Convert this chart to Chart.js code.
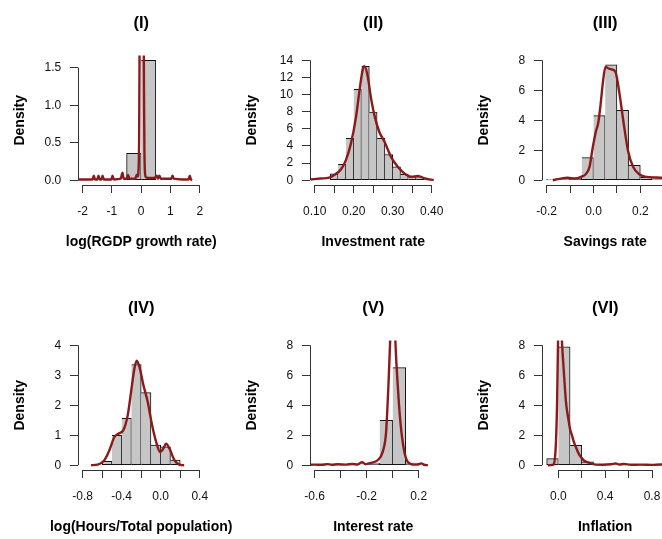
<!DOCTYPE html>
<html><head><meta charset="utf-8">
<script src="https://cdn.jsdelivr.net/npm/chart.js@4.4.1/dist/chart.umd.min.js"></script>
<style>
html,body{margin:0;padding:0;background:#fff;overflow:hidden;width:662px;height:539px;position:relative}
canvas{position:absolute;display:block}
</style></head><body>
<canvas id="c1" width="232" height="270" style="left:0px;top:0px"></canvas>
<canvas id="c2" width="232" height="270" style="left:232px;top:0px"></canvas>
<canvas id="c3" width="232" height="270" style="left:464px;top:0px"></canvas>
<canvas id="c4" width="232" height="270" style="left:0px;top:285px"></canvas>
<canvas id="c5" width="232" height="270" style="left:232px;top:285px"></canvas>
<canvas id="c6" width="232" height="270" style="left:464px;top:285px"></canvas>
<script>
// ---------- titles ----------
const panelTitles = ['(I)','(II)','(III)','(IV)','(V)','(VI)'];
const xAxisTitles = ['log(RGDP growth rate)','Investment rate','Savings rate','log(Hours/Total population)','Interest rate','Inflation'];

// ---------- (I) log(RGDP growth rate) ----------
const binMidsI = [-0.25, 0.25];
const histI = [0.36, 1.60];
const kdeXI = [-2.25,-1.9,-1.66,-1.62,-1.58,-1.5,-1.46,-1.42,-1.36,-1.32,-1.28,-1.02,-0.98,-0.94,-0.7,-0.64,-0.6,-0.5,-0.45,-0.4,-0.2,-0.16,-0.12,-0.09,-0.07,-0.06,-0.04,0.0,0.03,0.06,0.085,0.095,0.11,0.13,0.16,0.3,0.45,0.53,0.57,0.62,0.67,0.8,1.03,1.07,1.11,1.4,1.62,1.66,1.7,1.74];
const kdeYI = [0.01,0.01,0.01,0.06,0.01,0.01,0.06,0.01,0.01,0.06,0.01,0.01,0.06,0.01,0.02,0.1,0.02,0.02,0.07,0.02,0.02,0.07,0.05,0.15,0.6,1.4,3.0,5.2,5.5,4.0,2.0,1.2,0.4,0.1,0.04,0.03,0.03,0.06,0.02,0.06,0.02,0.02,0.02,0.06,0.02,0.01,0.01,0.06,0.01,0.0];
const xTicksI = [-2,-1,0,1,2];
const xLabelsI = ['-2','-1','0','1','2'];
const yTicksI = [0,0.5,1,1.5];
const yLabelsI = ['0.0','0.5','1.0','1.5'];

// ---------- (II) Investment rate ----------
const binMidsII = [0.15,0.17,0.19,0.21,0.23,0.25,0.27,0.29,0.31,0.33,0.35,0.37];
const histII = [0.75,1.85,4.9,10.6,13.3,7.95,4.9,3.0,1.55,0.7,0.4,0.3];
const kdeXII = [0.09,0.115,0.137,0.15,0.167,0.18,0.193,0.206,0.215,0.2235,0.228,0.236,0.244,0.253,0.266,0.279,0.296,0.313,0.33,0.347,0.365,0.382,0.405];
const kdeYII = [0.08,0.2,0.3,0.6,1.25,2.35,4.3,7.4,10.5,13.0,13.3,12.1,9.7,7.6,5.6,4.5,2.7,1.56,0.78,0.4,0.5,0.2,0.02];
const xTicksII = [0.10,0.15,0.20,0.25,0.30,0.35,0.40];
const xLabelsII = ['0.10','','0.20','','0.30','','0.40'];
const yTicksII = [0,2,4,6,8,10,12,14];
const yLabelsII = ['0','2','4','6','8','10','12','14'];

// ---------- (III) Savings rate ----------
const binMidsIII = [-0.175,-0.125,-0.075,-0.025,0.025,0.075,0.125,0.175,0.225,0.275];
const histIII = [0.05,0.1,0.15,1.51,4.31,7.69,4.67,1.0,0.2,0.1];
const kdeXIII = [-0.174,-0.146,-0.11,-0.081,-0.053,-0.031,-0.017,-0.003,0.011,0.02,0.03,0.04,0.051,0.066,0.08,0.094,0.111,0.129,0.147,0.169,0.197,0.226,0.269,0.3,0.33];
const kdeYIII = [0.0,0.09,0.16,0.11,0.22,0.44,0.89,2.2,3.3,3.8,5.0,6.5,7.56,7.44,7.38,7.22,5.78,3.78,2.0,0.89,0.38,0.22,0.18,0.15,0.1];
const xTicksIII = [-0.2,-0.1,0,0.1,0.2,0.3];
const xLabelsIII = ['-0.2','','0.0','','0.2',''];
const yTicksIII = [0,2,4,6,8];
const yLabelsIII = ['0','2','4','6','8'];

// ---------- (IV) log(Hours/Total population) ----------
const binMidsIV = [-0.55,-0.45,-0.35,-0.25,-0.15,-0.05,0.05,0.15];
const histIV = [0.13,1.0,1.56,3.36,2.42,0.67,0.61,0.17];
const kdeXIV = [-0.714,-0.646,-0.577,-0.526,-0.475,-0.43,-0.383,-0.338,-0.304,-0.27,-0.246,-0.218,-0.177,-0.133,-0.088,-0.047,-0.006,0.028,0.055,0.089,0.14,0.19,0.24];
const kdeYIV = [0.0,0.02,0.17,0.5,0.94,1.06,1.17,1.67,2.44,3.22,3.49,3.28,2.67,2.11,1.33,0.78,0.44,0.56,0.72,0.56,0.17,0.02,0.0];
const xTicksIV = [-0.8,-0.6,-0.4,-0.2,0,0.2,0.4];
const xLabelsIV = ['-0.8','','-0.4','','0.0','','0.4'];
const yTicksIV = [0,1,2,3,4];
const yLabelsIV = ['0','1','2','3','4'];

// ---------- (V) Interest rate ----------
const binMidsV = [-0.15,-0.05,0.05,0.15];
const histV = [0.15,3.0,6.51,0.15];
const kdeXV = [-0.65,-0.6,-0.55,-0.5,-0.47,-0.42,-0.36,-0.31,-0.27,-0.235,-0.21,-0.167,-0.116,-0.077,-0.051,-0.033,-0.02,-0.01,0.005,0.015,0.021,0.039,0.059,0.085,0.116,0.168,0.2,0.219,0.24,0.27];
const kdeYV = [0.02,0.04,0.03,0.07,0.03,0.06,0.04,0.08,0.05,0.2,0.07,0.16,0.33,0.89,2.2,5.3,8.2,10.5,11.5,10.0,8.2,5.3,2.9,1.1,0.22,0.04,0.06,0.12,0.03,0.0];
const xTicksV = [-0.6,-0.4,-0.2,0,0.2];
const xLabelsV = ['-0.6','','-0.2','','0.2'];
const yTicksV = [0,2,4,6,8];
const yLabelsV = ['0','2','4','6','8'];

// ---------- (VI) Inflation ----------
const binMidsVI = [-0.05,0.05,0.15,0.25,0.35];
const histVI = [0.44,7.9,1.33,0.22,0.05];
const kdeXVI = [-0.09,-0.048,-0.025,-0.011,-0.003,0.01,0.022,0.031,0.045,0.065,0.087,0.1,0.116,0.13,0.15,0.178,0.22,0.263,0.319,0.38,0.45,0.49,0.52,0.56,0.62,0.7,0.8,0.87,0.93];
const kdeYVI = [0.0,0.02,0.9,4.2,8.2,11.0,10.0,8.2,6.44,4.2,3.0,2.4,2.0,1.6,1.2,0.7,0.3,0.16,0.04,0.03,0.06,0.11,0.05,0.08,0.03,0.04,0.02,0.05,0.02];
const xTicksVI = [0,0.2,0.4,0.6,0.8];
const xLabelsVI = ['0.0','','0.4','','0.8'];
const yTicksVI = [0,2,4,6,8];
const yLabelsVI = ['0','2','4','6','8'];

// axis data ranges (R xlim / ylim)
const xLims = [[-2,2],[0.10,0.40],[-0.2,0.3],[-0.8,0.4],[-0.6,0.3],[-0.1,0.9]];
const yLims = [[0,1.6],[0,14],[0,8],[0,4],[0,8],[0,8]];

// ---------- style ----------
const FONT = "'Liberation Sans', Arial, Helvetica, sans-serif";
const RED = '#8b1a1a';
const GRAY = '#c6c6c6';
const AXIS = '#333333';
const TXT = '#111111';

const al = p => Math.round(p - 0.5) + 0.5;
const rAxes = {
  id: 'rAxes',
  afterDraw(chart, args, opts) {
    const {ctx, chartArea, scales} = chart;
    const x = scales.x, y = scales.y;
    ctx.save();
    ctx.strokeStyle = AXIS; ctx.lineWidth = 1;
    const xt = x.ticks, yt = y.ticks;
    const yb = al(chartArea.bottom);
    ctx.beginPath();
    ctx.moveTo(x.getPixelForValue(xt[0].value), yb);
    ctx.lineTo(x.getPixelForValue(xt[xt.length-1].value), yb);
    ctx.stroke();
    const xl = al(chartArea.left);
    ctx.beginPath();
    ctx.moveTo(xl, y.getPixelForValue(yt[0].value));
    ctx.lineTo(xl, y.getPixelForValue(yt[yt.length-1].value));
    ctx.stroke();
    // x-axis title (drawn without width compression, centred on plot region)
    ctx.fillStyle = '#000';
    ctx.font = 'bold 14px ' + FONT;
    ctx.textAlign = 'center';
    ctx.textBaseline = 'middle';
    ctx.fillText(opts.text, (chartArea.left + chartArea.right) / 2, chartArea.bottom + 57);
    ctx.restore();
  }
};

function panel(id, k, mids, hist, kx, ky, xt, xl, yt, yl) {
  const [x0, x1] = xLims[k], [y0, y1] = yLims[k];
  const px = (x1 - x0) * 0.04, py = (y1 - y0) * 0.04;
  const bars = mids.map((m, i) => ({x: m, y: hist[i]}));
  const kde = kx.map((v, i) => ({x: v, y: ky[i]}));
  new Chart(document.getElementById(id), {
    type: 'bar',
    data: {datasets: [
      {type: 'line', data: kde, borderColor: RED, borderWidth: 2.4, pointRadius: 0,
       cubicInterpolationMode: 'monotone', clip: 0, order: 0, fill: false},
      {type: 'bar', data: bars, backgroundColor: GRAY, borderColor: '#111',
       borderWidth: c => ({top: 1, right: 1, bottom: 1, left: c.dataIndex === 0 ? 1 : 0}),
       borderSkipped: false, barPercentage: 1, categoryPercentage: 1, grouped: false, order: 1}
    ]},
    options: {
      responsive: false, animation: false, events: [],
      layout: {autoPadding: false, padding: {left: 0, right: 27.6, top: 0, bottom: 0}},
      plugins: {
        legend: {display: false}, tooltip: {enabled: false},
        title: {display: true, text: panelTitles[k], fullSize: false, color: '#000',
                font: {family: FONT, size: 16.5, weight: 'bold'}, padding: {top: 13.6, bottom: 22.1}},
        rAxes: {text: xAxisTitles[k]}
      },
      scales: {
        x: {type: 'linear', min: x0 - px, max: x1 + px, offset: false,
            afterBuildTicks: s => { s.ticks = xt.map(v => ({value: v})); },
            afterFit: s => { s.height = 85; },
            ticks: {autoSkip: false, maxRotation: 0, minRotation: 0, padding: 11.8, color: TXT,
                    font: {family: FONT, size: 12}, callback: (v, i) => xl[i]},
            grid: {display: true, drawOnChartArea: false, drawTicks: true, tickLength: 8,
                   tickColor: AXIS, offset: false},
            border: {display: false},
            title: {display: false}},
        y: {type: 'linear', min: y0 - py, max: y1 + py,
            afterBuildTicks: s => { s.ticks = yt.map(v => ({value: v})); },
            afterFit: s => { s.width = 78; },
            ticks: {autoSkip: false, padding: 8.8, color: TXT,
                    font: {family: FONT, size: 12}, callback: (v, i) => yl[i]},
            grid: {display: true, drawOnChartArea: false, drawTicks: true, tickLength: 8, tickColor: AXIS},
            border: {display: false},
            title: {display: true, text: 'Density', color: '#000',
                    font: {family: FONT, size: 14, weight: 'bold'}, padding: {top: 11.6, bottom: 0}}}
      }
    },
    plugins: [rAxes]
  });
}

panel('c1', 0, binMidsI, histI, kdeXI, kdeYI, xTicksI, xLabelsI, yTicksI, yLabelsI);
panel('c2', 1, binMidsII, histII, kdeXII, kdeYII, xTicksII, xLabelsII, yTicksII, yLabelsII);
panel('c3', 2, binMidsIII, histIII, kdeXIII, kdeYIII, xTicksIII, xLabelsIII, yTicksIII, yLabelsIII);
panel('c4', 3, binMidsIV, histIV, kdeXIV, kdeYIV, xTicksIV, xLabelsIV, yTicksIV, yLabelsIV);
panel('c5', 4, binMidsV, histV, kdeXV, kdeYV, xTicksV, xLabelsV, yTicksV, yLabelsV);
panel('c6', 5, binMidsVI, histVI, kdeXVI, kdeYVI, xTicksVI, xLabelsVI, yTicksVI, yLabelsVI);
</script>
</body></html>
